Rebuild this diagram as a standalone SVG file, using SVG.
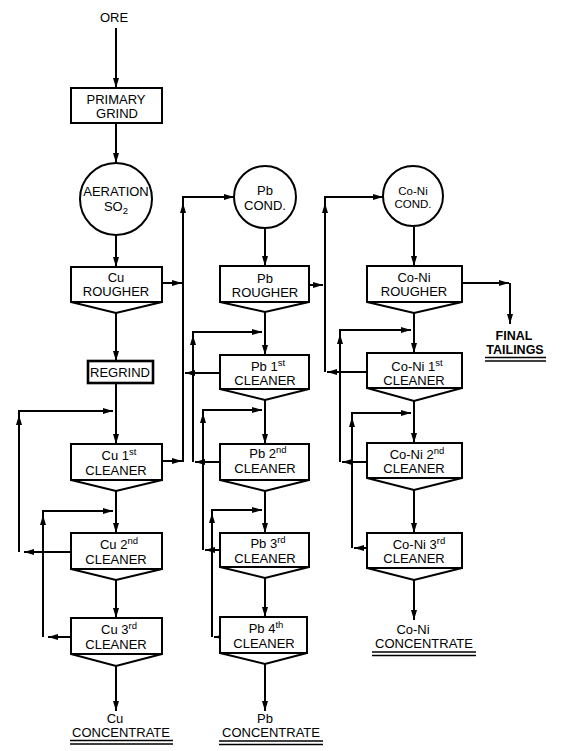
<svg xmlns="http://www.w3.org/2000/svg" width="562" height="751" viewBox="0 0 562 751">
<defs>
<marker id="ah" viewBox="0 0 10 6" refX="10" refY="3" markerWidth="10" markerHeight="6" markerUnits="userSpaceOnUse" orient="auto"><path d="M0,0 L10,3 L0,6 Z" fill="#000"/></marker>
</defs>
<style>
.box{fill:#fff;stroke:#000;stroke-width:2}
.v{fill:none;stroke:#000;stroke-width:2;stroke-linejoin:miter}
.t{font-family:"Liberation Sans",Arial,sans-serif;font-size:13px;fill:#000;text-anchor:middle}
.sm{font-size:11.5px}
.b{font-weight:bold;font-size:12.5px}
.s{font-size:9.5px}
.c{fill:none;stroke:#000;stroke-width:2}
.a{marker-end:url(#ah)}
.u{stroke:#000;stroke-width:1.5}
</style>
<rect width="562" height="751" fill="#fff"/>

<g id="connectors">
<path class="c a" d="M116,28 V88"/>
<path class="c a" d="M116,123 V163"/>
<path class="c a" d="M116,235 V267"/>
<path class="c a" d="M116,313 V361"/>
<path class="c a" d="M116,383 V444"/>
<path class="c a" d="M116,491 V533"/>
<path class="c a" d="M116,580 V618"/>
<path class="c a" d="M116,666 V711"/>
<path class="c a" d="M71,552 H24"/>
<path class="c a" d="M19,552 V415"/>
<path class="c a" d="M19,416 V411 H113"/>
<path class="c a" d="M71,637 H48"/>
<path class="c a" d="M43,637 V515"/>
<path class="c a" d="M43,516 V511 H113"/>
<path class="c a" d="M162,283 H182"/>
<path class="c a" d="M162,461 H182"/>
<path class="c a" d="M183,462 V203"/>
<path class="c a" d="M183,204 V197 H234"/>
<path class="c a" d="M220,373 H185"/>
<path class="c a" d="M265,228 V266"/>
<path class="c a" d="M265,312 V355"/>
<path class="c a" d="M265,400 V444"/>
<path class="c a" d="M265,491 V533"/>
<path class="c a" d="M265,578 V617"/>
<path class="c a" d="M265,664 V711"/>
<path class="c a" d="M220,462 H195"/>
<path class="c a" d="M193,462 V335"/>
<path class="c a" d="M193,336 V332 H262"/>
<path class="c a" d="M220,550 H205"/>
<path class="c a" d="M203,550 V413"/>
<path class="c a" d="M203,414 V410 H262"/>
<path class="c a" d="M220,637 H214"/>
<path class="c a" d="M212,637 V513"/>
<path class="c a" d="M212,514 V510 H262"/>
<path class="c a" d="M309,285 H323"/>
<path class="c a" d="M325,372 V203"/>
<path class="c a" d="M325,204 V197 H383"/>
<path class="c a" d="M367,372 H327"/>
<path class="c a" d="M414,227 V266"/>
<path class="c a" d="M414,313 V353"/>
<path class="c a" d="M414,401 V443"/>
<path class="c a" d="M414,490 V533"/>
<path class="c a" d="M414,580 V620"/>
<path class="c a" d="M367,462 H342"/>
<path class="c a" d="M340,462 V334"/>
<path class="c a" d="M340,335 V330 H411"/>
<path class="c a" d="M367,548 H354"/>
<path class="c a" d="M352,548 V417"/>
<path class="c a" d="M352,418 V413 H411"/>
<path class="c a" d="M463,283 H509"/>
<path class="c a" d="M510,283 V324"/>
</g>

<g id="ore"><text class="t" x="114" y="22">ORE</text></g>

<g id="primary-grind"><rect class="box" x="71" y="88" width="91" height="35"/><text class="t" x="116" y="104">PRIMARY</text><text class="t" x="117" y="118">GRIND</text></g>

<g id="aeration"><circle class="box" cx="116" cy="199" r="36"/><text class="t" x="116" y="196">AERATION</text><text class="t" x="116" y="211">SO<tspan class="s" dy="3">2</tspan></text></g>

<g id="cu-rougher"><rect class="box" x="71" y="267" width="91" height="35"/><path class="v" d="M71,302 L116,313 L162,302"/><text class="t" x="116" y="282">Cu</text><text class="t" x="116" y="296">ROUGHER</text></g>

<g id="regrind"><rect x="88" y="361" width="65" height="22" fill="#fff" stroke="#000" stroke-width="2.6"/><text class="t" x="120" y="377">REGRIND</text></g>

<g id="cu-1st"><rect class="box" x="71" y="444" width="91" height="36"/><path class="v" d="M71,480 L116,491 L162,480"/><text class="t" x="119" y="460">Cu 1<tspan class="s" dy="-5">st</tspan></text><text class="t" x="116" y="475">CLEANER</text></g>

<g id="cu-2nd"><rect class="box" x="71" y="533" width="91" height="36"/><path class="v" d="M71,569 L116,580 L162,569"/><text class="t" x="119" y="549">Cu 2<tspan class="s" dy="-5">nd</tspan></text><text class="t" x="116" y="564">CLEANER</text></g>

<g id="cu-3rd"><rect class="box" x="71" y="618" width="91" height="36"/><path class="v" d="M71,654 L116,666 L162,654"/><text class="t" x="119" y="634">Cu 3<tspan class="s" dy="-5">rd</tspan></text><text class="t" x="116" y="649">CLEANER</text></g>

<g id="cu-concentrate"><text class="t" x="115" y="723">Cu</text><text class="t" x="121" y="737">CONCENTRATE</text><line class="u" x1="70" y1="740.5" x2="173" y2="740.5"/><line class="u" x1="70" y1="744" x2="173" y2="744"/></g>

<g id="pb-cond"><circle class="box" cx="265" cy="197" r="31"/><text class="t" x="265" y="195">Pb</text><text class="t" x="265" y="210">COND.</text></g>

<g id="pb-rougher"><rect class="box" x="220" y="266" width="89" height="36"/><path class="v" d="M220,302 L265,312 L309,302"/><text class="t" x="265" y="283">Pb</text><text class="t" x="265" y="297">ROUGHER</text></g>

<g id="pb-1st"><rect class="box" x="220" y="355" width="89" height="34"/><path class="v" d="M220,389 L265,400 L309,389"/><text class="t" x="268" y="371">Pb 1<tspan class="s" dy="-5">st</tspan></text><text class="t" x="265" y="385">CLEANER</text></g>

<g id="pb-2nd"><rect class="box" x="220" y="444" width="89" height="36"/><path class="v" d="M220,480 L265,491 L309,480"/><text class="t" x="268" y="458">Pb 2<tspan class="s" dy="-5">nd</tspan></text><text class="t" x="265" y="473">CLEANER</text></g>

<g id="pb-3rd"><rect class="box" x="220" y="533" width="89" height="34"/><path class="v" d="M220,567 L265,578 L309,567"/><text class="t" x="268" y="548">Pb 3<tspan class="s" dy="-5">rd</tspan></text><text class="t" x="265" y="563">CLEANER</text></g>

<g id="pb-4th"><rect class="box" x="220" y="617" width="87" height="36"/><path class="v" d="M220,653 L265,664 L307,653"/><text class="t" x="266" y="633">Pb 4<tspan class="s" dy="-5">th</tspan></text><text class="t" x="264" y="648">CLEANER</text></g>

<g id="pb-concentrate"><text class="t" x="265" y="723">Pb</text><text class="t" x="271" y="737">CONCENTRATE</text><line class="u" x1="219" y1="741" x2="323" y2="741"/><line class="u" x1="219" y1="744.5" x2="323" y2="744.5"/></g>

<g id="coni-cond"><circle class="box" cx="413" cy="196" r="30"/><text class="t sm" x="413" y="195">Co-Ni</text><text class="t sm" x="413" y="208">COND.</text></g>

<g id="coni-rougher"><rect class="box" x="367" y="266" width="95" height="36"/><path class="v" d="M367,302 L414,313 L462,302"/><text class="t" x="414" y="282">Co-Ni</text><text class="t" x="414" y="296">ROUGHER</text></g>

<g id="coni-1st"><rect class="box" x="367" y="353" width="95" height="35"/><path class="v" d="M367,388 L414,401 L462,388"/><text class="t" x="417" y="371">Co-Ni 1<tspan class="s" dy="-5">st</tspan></text><text class="t" x="414" y="385">CLEANER</text></g>

<g id="coni-2nd"><rect class="box" x="367" y="443" width="95" height="35"/><path class="v" d="M367,478 L414,490 L462,478"/><text class="t" x="417" y="459">Co-Ni 2<tspan class="s" dy="-5">nd</tspan></text><text class="t" x="414" y="473">CLEANER</text></g>

<g id="coni-3rd"><rect class="box" x="367" y="533" width="95" height="35"/><path class="v" d="M367,568 L414,580 L462,568"/><text class="t" x="419" y="549">Co-Ni 3<tspan class="s" dy="-5">rd</tspan></text><text class="t" x="414" y="563">CLEANER</text></g>

<g id="coni-concentrate"><text class="t" x="413" y="634">Co-Ni</text><text class="t" x="424" y="648">CONCENTRATE</text><line class="u" x1="372" y1="652" x2="476" y2="652"/><line class="u" x1="372" y1="655.5" x2="476" y2="655.5"/></g>

<g id="final-tailings"><text class="t b" x="514" y="340">FINAL</text><text class="t b" x="515" y="354">TAILINGS</text><line class="u" x1="485" y1="357.5" x2="546" y2="357.5"/><line class="u" x1="485" y1="361" x2="546" y2="361"/></g>
</svg>
